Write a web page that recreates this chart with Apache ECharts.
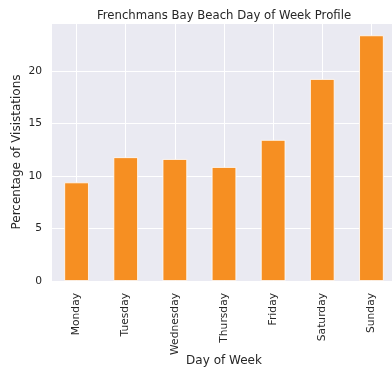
<!DOCTYPE html>
<html>
<head>
<meta charset="utf-8">
<script src="https://cdn.jsdelivr.net/npm/echarts@6/dist/echarts.min.js"></script>
<style>
  html, body { margin: 0; padding: 0; background: #ffffff; }
  #chart { width: 392px; height: 371px; }
</style>
</head>
<body>
<div id="chart"></div>
<script>
// Share of visits to Frenchmans Bay Beach by day of week (%)
const days = ['Monday', 'Tuesday', 'Wednesday', 'Thursday', 'Friday', 'Saturday', 'Sunday'];
const visitShare = [9.4, 11.8, 11.63, 10.87, 13.45, 19.26, 23.42];
const yTicks = [0, 5, 10, 15, 20];

const textColor = '#262626';
const font = 'DejaVu Sans';

const chart = echarts.init(document.getElementById('chart'), null, { renderer: 'canvas' });

chart.setOption({
  backgroundColor: '#ffffff',
  animation: false,
  title: {
    text: 'Frenchmans Bay Beach Day of Week Profile',
    left: 219,
    top: 5,
    textAlign: 'center',
    textStyle: { fontFamily: font, fontSize: 11.7, fontWeight: 'normal', color: textColor }
  },
  grid: {
    left: 52,
    top: 23,
    right: -4,
    bottom: 90,
    containLabel: false,
    outerBoundsMode: 'none',
    show: true,
    backgroundColor: '#eaeaf2',
    borderWidth: 0
  },
  xAxis: {
    type: 'category',
    data: days,
    name: 'Day of Week',
    nameLocation: 'middle',
    nameGap: 74,
    nameMoveOverlap: false,
    nameTextStyle: { fontFamily: font, fontSize: 12, color: textColor },
    axisLine: { show: false },
    axisTick: { show: false, alignWithLabel: true },
    axisLabel: {
      rotate: 90,
      margin: 12,
      fontFamily: font,
      fontSize: 10.7,
      color: textColor
    },
    splitLine: { show: true, alignWithLabel: true, lineStyle: { color: '#ffffff', width: 1 } }
  },
  yAxis: {
    type: 'value',
    min: 0,
    max: 24.6,
    interval: 5,
    name: 'Percentage of Visistations',
    nameLocation: 'middle',
    nameGap: 29,
    nameMoveOverlap: false,
    nameTextStyle: { fontFamily: font, fontSize: 12, color: textColor },
    axisLine: { show: false },
    axisTick: { show: false },
    axisLabel: {
      margin: 10,
      fontFamily: font,
      fontSize: 10.7,
      color: textColor,
      formatter: v => (yTicks.includes(v) ? String(v) : '')
    },
    splitLine: { show: true, lineStyle: { color: '#ffffff', width: 1 } }
  },
  series: [{
    type: 'bar',
    data: visitShare,
    barWidth: '50%',
    itemStyle: { color: '#f68f22', borderColor: '#ffffff', borderWidth: 0.8 }
  }]
});
</script>
</body>
</html>
